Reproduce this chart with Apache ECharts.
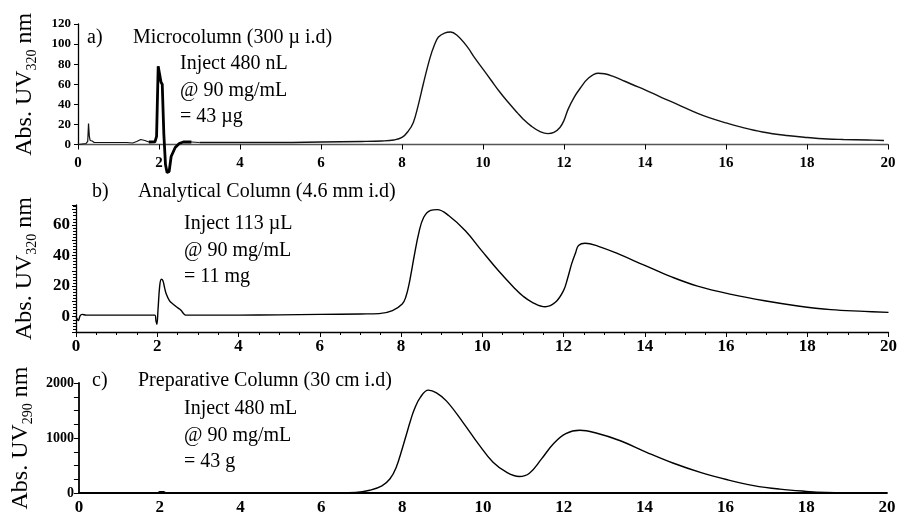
<!DOCTYPE html>
<html lang="en">
<head>
<meta charset="UTF-8">
<title>Chromatograms</title>
<script src="https://cdn.jsdelivr.net/npm/echarts@6/dist/echarts.min.js"></script>
<style>
	html, body { margin: 0; padding: 0; background: #fff; }
	#chart { width: 900px; height: 516px; }
</style>
</head>
<body>
<div id="chart"></div>
<script>
// a) microcolumn trace (min, mAU)
var timeA = [0, 0.1, 0.2, 0.24, 0.26, 0.28, 0.3, 0.35, 0.4, 0.6, 0.8, 1.0, 1.2, 1.35, 1.45, 1.55, 1.65, 1.75,
	1.9, 1.94, 1.98, 2.02, 2.05, 2.08, 2.12, 2.16, 2.2, 2.25, 2.3, 2.4, 2.5, 2.6, 2.8, 3.0, 4, 5, 6, 7, 7.5,
	7.8, 8.0, 8.15, 8.28, 8.4, 8.53, 8.69, 8.8, 8.9, 9.05, 9.2, 9.35, 9.6, 9.8, 10.0, 10.2, 10.4, 10.6, 10.85,
	11.0, 11.2, 11.4, 11.6, 11.75, 11.9, 12.0, 12.1, 12.25, 12.4, 12.6, 12.84, 13.0, 13.2, 13.5, 13.7, 14.0,
	14.4, 14.8, 15.3, 15.6, 16.0, 16.4, 16.9, 17.5, 18.0, 18.5, 18.9, 19.5, 19.9];
var absA = [0, 0.5, 1, 3, 21, 8, 4, 3.5, 2, 2, 2, 2, 2, 1.5, 3, 5, 4, 2.5,
	2.7, 8, 78, 79, 62, 60, 10, -20, -28, -27, -12, -3, 1, 2.5, 2.5, 2, 2, 2, 2.5, 3, 3.5,
	4.5, 7, 13, 22, 39, 61, 86, 99, 107, 111, 112, 109, 98, 86, 75, 64, 53, 43, 31.5,
	25, 18, 13, 10.8, 12, 17, 24, 35, 47, 56, 66, 71, 70.5, 68, 63, 59.5, 54.5,
	47, 40, 31, 26.5, 21.5, 17, 12.5, 9, 7, 5.5, 5, 4.5, 4];

// b) analytical column
var timeB = [0, 0.03, 0.06, 0.1, 0.15, 0.25, 0.5, 1.0, 1.5, 1.94, 1.97, 1.99, 2.02, 2.06, 2.1, 2.14, 2.18,
	2.22, 2.3, 2.4, 2.47, 2.55, 2.59, 2.65, 2.7, 3, 4, 5, 6, 7, 7.46, 7.79, 8.03, 8.12, 8.2, 8.26, 8.32,
	8.44, 8.56, 8.73, 8.89, 9.18, 9.59, 9.99, 10.4, 10.8, 11.0, 11.22, 11.55, 11.8, 12.0, 12.1, 12.2, 12.3,
	12.37, 12.53, 12.86, 13.35, 14.0, 14.66, 15.3, 16.13, 16.95, 17.77, 18.58, 19.4, 20];
var absB = [0, -1.5, -2.5, 0.5, 1.5, 1, 1, 1, 1, 1, -3, -5, 5, 20, 24.5, 23.5, 19,
	15, 10.5, 8, 6.5, 5, 4, 2, 1, 1, 1, 1.2, 1.5, 1.8, 2, 4, 8.3, 13, 21.5, 30, 39,
	55, 65, 69.5, 70, 66, 56, 43, 30, 18.5, 13.5, 9.6, 6.5, 9.4, 17, 25, 34.5, 42,
	46.5, 48, 46, 41, 33.5, 26, 20, 14.6, 10.4, 7, 4.6, 3.5, 2.8];

// c) preparative column
var timeC = [0, 1.95, 2.0, 2.1, 2.15, 6.0, 6.85, 7.2, 7.5, 7.7, 7.85, 8.0, 8.1, 8.2, 8.3, 8.45,
	8.65, 8.85, 9.1, 9.5, 9.9, 10.25, 10.6, 10.9, 11.15, 11.45, 11.75, 12.05, 12.4, 12.8, 13.4, 14.05,
	14.7, 15.4, 16.05, 16.7, 17.35, 18.0, 18.5, 19, 20];
var absC = [0, 0, 25, 25, 0, 0, 10, 50, 130, 260, 460, 800, 1050, 1300, 1520, 1740,
	1870, 1820, 1670, 1290, 880, 560, 370, 300, 360, 620, 900, 1080, 1140, 1090, 950, 740,
	545, 370, 240, 135, 70, 30, 10, 5, 5];

var xTicks = [0, 2, 4, 6, 8, 10, 12, 14, 16, 18, 20];
var yLabelsB = [0, 20, 40, 60];
var yLabelsC = [0, 1000, 2000];

var textsA = ['a)', 'Microcolumn (300 \u00b5 i.d)', 'Inject 480 nL', '@ 90 mg/mL', '= 43 \u00b5g'];
var textsB = ['b)', 'Analytical Column (4.6 mm i.d)', 'Inject 113 \u00b5L', '@ 90 mg/mL', '= 11 mg'];
var textsC = ['c)', 'Preparative Column (30 cm i.d)', 'Inject 480 mL', '@ 90 mg/mL', '= 43 g'];

var serif = "'Liberation Serif', 'Times New Roman', serif";

function pairs(t, v) {
	return t.map(function (x, i) { return [x, v[i]]; });
}

function xAxisFor(idx, fs, margin, ticks, minor) {
	return {
		type: 'value', gridIndex: idx, min: 0, max: 20, interval: 2,
		axisLine: { onZero: false, lineStyle: { color: idx == 0 ? '#555' : '#000', width: idx == 2 ? 1.8 : 1.3 } },
		axisTick: { show: ticks, length: 5, lineStyle: { color: '#000' } },
		minorTick: { show: minor, splitNumber: 4, length: 3, lineStyle: { color: '#000' } },
		splitLine: { show: false },
		axisLabel: {
			margin: margin, color: '#000', fontFamily: serif, fontWeight: 'bold', fontSize: fs,
			formatter: function (v) { return xTicks.indexOf(v) >= 0 ? String(v) : ''; }
		}
	};
}

function yName(sub) {
	return '{m|Abs. UV}{s|' + sub + '}{m| nm}';
}
var nameRich = {
	m: { fontSize: 24, fontFamily: serif, color: '#000', lineHeight: 25, verticalAlign: 'top' },
	s: { fontSize: 14, fontFamily: serif, color: '#000', lineHeight: 14, padding: [13, 0, 0, 0] }
};

function titleTexts(texts, x0, x1, x2, yT, y1) {
	var out = [];
	var base = { fill: '#000', fontFamily: serif, fontSize: 20, verticalAlign: 'middle', align: 'left' };
	out.push({ type: 'text', x: x0, y: yT, style: Object.assign({ text: texts[0] }, base) });
	out.push({ type: 'text', x: x1, y: yT, style: Object.assign({ text: texts[1] }, base) });
	for (var i = 2; i < texts.length; i++) {
		out.push({ type: 'text', x: x2, y: y1 + (i - 2) * 26.5, style: Object.assign({ text: texts[i] }, base) });
	}
	return out;
}

var dom = document.getElementById('chart');
var myChart = echarts.init(dom);

var allA = pairs(timeA, absA);
var earlyA = allA.filter(function (p) { return p[0] <= 3.0; });
var lateA = allA.filter(function (p) { return p[0] >= 3.0; });
var spikeA = allA.filter(function (p) { return p[0] >= 1.7 && p[0] <= 2.85; });

var option = {
	animation: false,
	backgroundColor: '#fff',
	grid: [
		{ left: 78, top: 24, width: 810, height: 120.5 },
		{ left: 76, top: 205, width: 814, height: 127 },
		{ left: 78, top: 383, width: 809, height: 111 }
	],
	xAxis: [
		xAxisFor(0, 15, 11, true, false),
		xAxisFor(1, 17, 6, true, true),
		xAxisFor(2, 17, 6, false, false)
	],
	yAxis: [
		{
			type: 'value', gridIndex: 0, min: 0, max: 120, interval: 20,
			name: yName('320'), nameLocation: 'middle', nameRotate: 90, nameGap: 40,
			nameTextStyle: { rich: nameRich },
			axisLine: { show: true, lineStyle: { color: '#000', width: 1.3 } },
			axisTick: { show: true, length: 4, lineStyle: { color: '#000' } },
			splitLine: { show: false },
			axisLabel: { margin: 7, color: '#000', fontFamily: serif, fontWeight: 'bold', fontSize: 13 }
		},
		{
			type: 'value', gridIndex: 1, min: -10, max: 73, interval: 10,
			name: yName('320'), nameLocation: 'middle', nameRotate: 90, nameGap: 38,
			nameTextStyle: { rich: nameRich },
			axisLine: { show: true, lineStyle: { color: '#000', width: 1.3 } },
			axisTick: { show: true, length: 4, lineStyle: { color: '#000' } },
			minorTick: { show: true, splitNumber: 5, length: 3, lineStyle: { color: '#000' } },
			splitLine: { show: false },
			axisLabel: {
				margin: 6, color: '#000', fontFamily: serif, fontWeight: 'bold', fontSize: 17,
				formatter: function (v) { return yLabelsB.indexOf(v) >= 0 ? String(v) : ''; }
			}
		},
		{
			type: 'value', gridIndex: 2, min: 0, max: 2000, interval: 250,
			name: yName('290'), nameLocation: 'middle', nameRotate: 90, nameGap: 40,
			nameTextStyle: { rich: nameRich },
			axisLine: { show: true, lineStyle: { color: '#000', width: 1.8 } },
			axisTick: { show: true, length: 5, lineStyle: { color: '#000' } },
			splitLine: { show: false },
			axisLabel: {
				margin: 5, color: '#000', fontFamily: serif, fontWeight: 'bold', fontSize: 14,
				formatter: function (v) { return yLabelsC.indexOf(v) >= 0 ? String(v) : ''; }
			}
		}
	],
	graphic: [].concat(
		titleTexts(textsA, 87, 133, 180, 38, 64),
		titleTexts(textsB, 92, 138, 184, 192, 224),
		titleTexts(textsC, 92, 138, 184, 381, 409)
	),
	series: [
		{
			type: 'line', xAxisIndex: 0, yAxisIndex: 0, data: earlyA,
			showSymbol: false, clip: false, lineStyle: { color: '#111', width: 1.2 }
		},
		{
			type: 'line', xAxisIndex: 0, yAxisIndex: 0, data: lateA,
			showSymbol: false, smooth: 0.4, lineStyle: { color: '#111', width: 1.4 }
		},
		{
			type: 'line', xAxisIndex: 0, yAxisIndex: 0, data: spikeA,
			showSymbol: false, clip: false, lineStyle: { color: '#000', width: 2.8 }
		},
		{
			type: 'line', xAxisIndex: 1, yAxisIndex: 1, data: pairs(timeB, absB),
			showSymbol: false, smooth: 0.4, lineStyle: { color: '#000', width: 1.4 }
		},
		{
			type: 'line', xAxisIndex: 2, yAxisIndex: 2, data: pairs(timeC, absC),
			showSymbol: false, smooth: 0.4, lineStyle: { color: '#000', width: 1.4 }
		}
	]
};

if (option && typeof option === "object") {
	myChart.setOption(option, true);
}
</script>
</body>
</html>
